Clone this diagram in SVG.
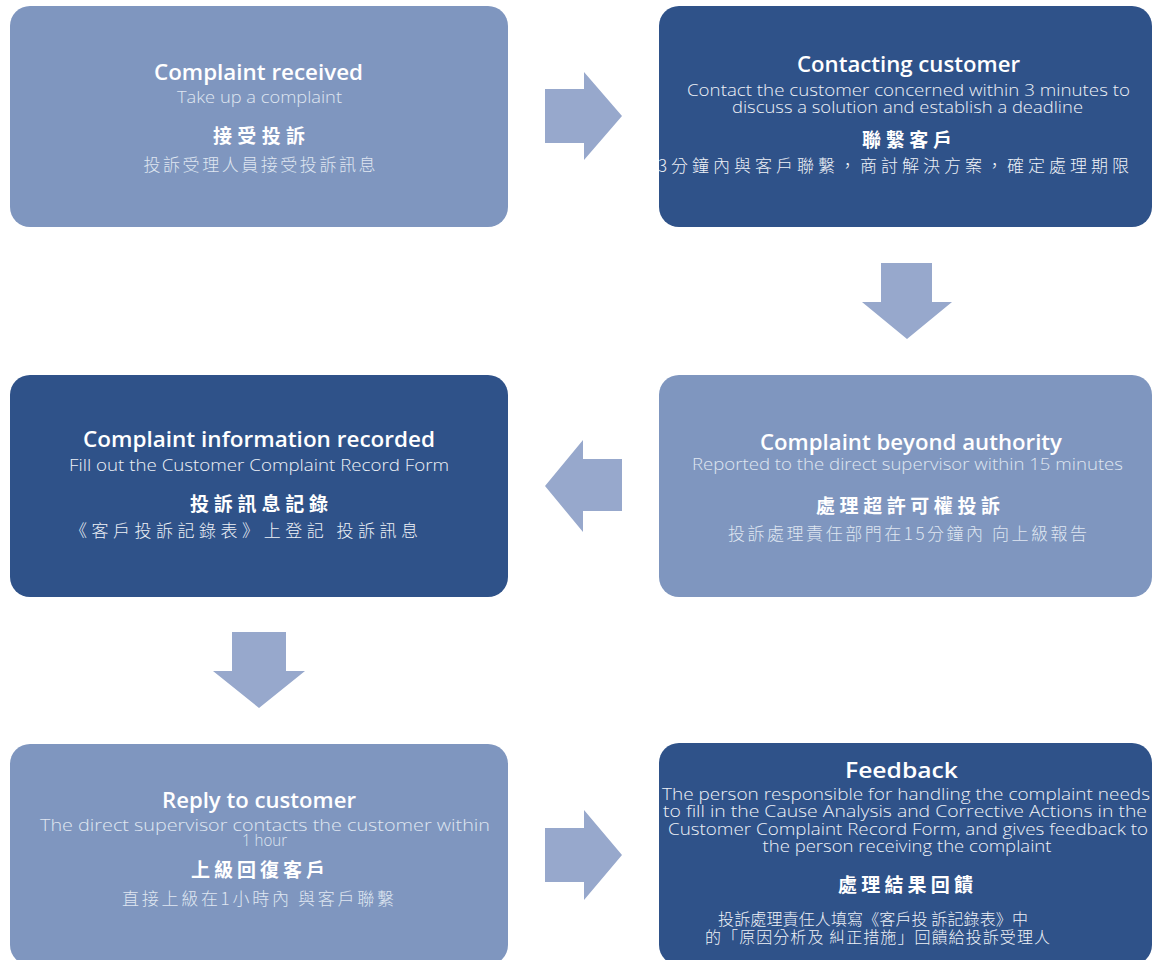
<svg xmlns="http://www.w3.org/2000/svg" width="1153" height="960" viewBox="0 0 1153 960">
<style>
.bl{fill:#7f96bf}
.bd{fill:#2f5289}
.arrow{fill:#97a8cc}
text{font-family:"Open Sans","Noto Sans CJK TC",sans-serif;text-anchor:middle}
.ti{font-size:21px;font-weight:600;fill:#ffffff}
.bo{font-size:16.5px;font-weight:300}
.l .bo,.l .cj{fill:#dfe6f1}
.d .bo,.d .cj,.d .cs{fill:#eef1f7}
.ct{font-family:"Noto Sans CJK TC",sans-serif;font-size:19px;font-weight:700;fill:#ffffff}
.cj{font-family:"Noto Sans CJK TC",sans-serif;font-size:17px;font-weight:300}
.cs{font-family:"Noto Sans CJK TC",sans-serif;font-size:16px;font-weight:300}
</style>
<rect width="1153" height="960" fill="#ffffff"/>
<g id="connectors">
<polygon class="arrow" points="545,89 584,89 584,72 622,116 584,160 584,143 545,143"/>
<polygon class="arrow" points="881,263 932,263 932,302 952,302 907,339 862,302 881,302"/>
<polygon class="arrow" points="622,459 583,459 583,440 545,486 583,532 583,511 622,511"/>
<polygon class="arrow" points="232,632 286,632 286,671 305,671 259,708 213,671 232,671"/>
<polygon class="arrow" points="545,828 584,828 584,810 622,855 584,900 584,882 545,882"/>
</g>
<g id="node-received" class="l">
<rect class="bl" x="10" y="6" width="498" height="221" rx="20"/>
<text class="ti" x="258.5" y="80" textLength="209" lengthAdjust="spacingAndGlyphs">Complaint received</text>
<text class="bo" x="259.5" y="103" textLength="165" lengthAdjust="spacingAndGlyphs">Take up a complaint</text>
<text class="ct" x="259" y="143" textLength="92">接受投訴</text>
<text class="cj" x="259.5" y="170.5" textLength="232">投訴受理人員接受投訴訊息</text>
</g>
<g id="node-contacting" class="d">
<rect class="bd" x="659" y="6" width="493" height="221" rx="20"/>
<text class="ti" x="908.5" y="72" textLength="223" lengthAdjust="spacingAndGlyphs">Contacting customer</text>
<text class="bo" x="908.5" y="96" textLength="443" lengthAdjust="spacingAndGlyphs">Contact the customer concerned within 3 minutes to</text>
<text class="bo" x="907.5" y="113" textLength="351" lengthAdjust="spacingAndGlyphs">discuss a solution and establish a deadline</text>
<text class="ct" x="907" y="147" textLength="90">聯繫客戶</text>
<text class="cj" x="893.5" y="172" textLength="471">3分鐘內與客戶聯繫，商討解決方案，確定處理期限</text>
</g>
<g id="node-beyond" class="l">
<rect class="bl" x="659" y="375" width="493" height="222" rx="20"/>
<text class="ti" x="911" y="450" textLength="302" lengthAdjust="spacingAndGlyphs">Complaint beyond authority</text>
<text class="bo" x="907.5" y="470" textLength="431" lengthAdjust="spacingAndGlyphs">Reported to the direct supervisor within 15 minutes</text>
<text class="ct" x="908" y="512.5" textLength="184">處理超許可權投訴</text>
<text class="cj" x="907.5" y="540" textLength="359">投訴處理責任部門在15分鐘內 向上級報告</text>
</g>
<g id="node-recorded" class="d">
<rect class="bd" x="10" y="375" width="498" height="222" rx="20"/>
<text class="ti" x="259" y="447" textLength="352" lengthAdjust="spacingAndGlyphs">Complaint information recorded</text>
<text class="bo" x="259" y="471" textLength="380" lengthAdjust="spacingAndGlyphs">Fill out the Customer Complaint Record Form</text>
<text class="ct" x="259" y="511" textLength="138">投訴訊息記錄</text>
<text class="cj" x="244" y="537" textLength="348">《客戶投訴記錄表》上登記 投訴訊息</text>
</g>
<g id="node-reply" class="l">
<rect class="bl" x="10" y="744" width="498" height="221" rx="20"/>
<text class="ti" x="259" y="808" textLength="194" lengthAdjust="spacingAndGlyphs">Reply to customer</text>
<text class="bo" x="265" y="831" textLength="450" lengthAdjust="spacingAndGlyphs">The direct supervisor contacts the customer within</text>
<text class="bo" x="264.5" y="846" textLength="45" lengthAdjust="spacingAndGlyphs">1 hour</text>
<text class="ct" x="258" y="877" textLength="134">上級回復客戶</text>
<text class="cj" x="258" y="905" textLength="272">直接上級在1小時內 與客戶聯繫</text>
</g>
<g id="node-feedback" class="d">
<rect class="bd" x="659" y="743" width="493" height="222" rx="20"/>
<text class="ti" x="901.5" y="778" textLength="113" lengthAdjust="spacingAndGlyphs">Feedback</text>
<text class="bo" x="906" y="800" textLength="488" lengthAdjust="spacingAndGlyphs">The person responsible for handling the complaint needs</text>
<text class="bo" x="905" y="817" textLength="484" lengthAdjust="spacingAndGlyphs">to fill in the Cause Analysis and Corrective Actions in the</text>
<text class="bo" x="908" y="835" textLength="480" lengthAdjust="spacingAndGlyphs">Customer Complaint Record Form, and gives feedback to</text>
<text class="bo" x="907" y="852" textLength="289" lengthAdjust="spacingAndGlyphs">the person receiving the complaint</text>
<text class="ct" x="905.5" y="892" textLength="135">處理結果回饋</text>
<text class="cs" x="873" y="924.5" textLength="310">投訴處理責任人填寫《客戶投 訴記錄表》中</text>
<text class="cs" x="877.5" y="943" textLength="345">的「原因分析及 糾正措施」回饋給投訴受理人</text>
</g>
</svg>
